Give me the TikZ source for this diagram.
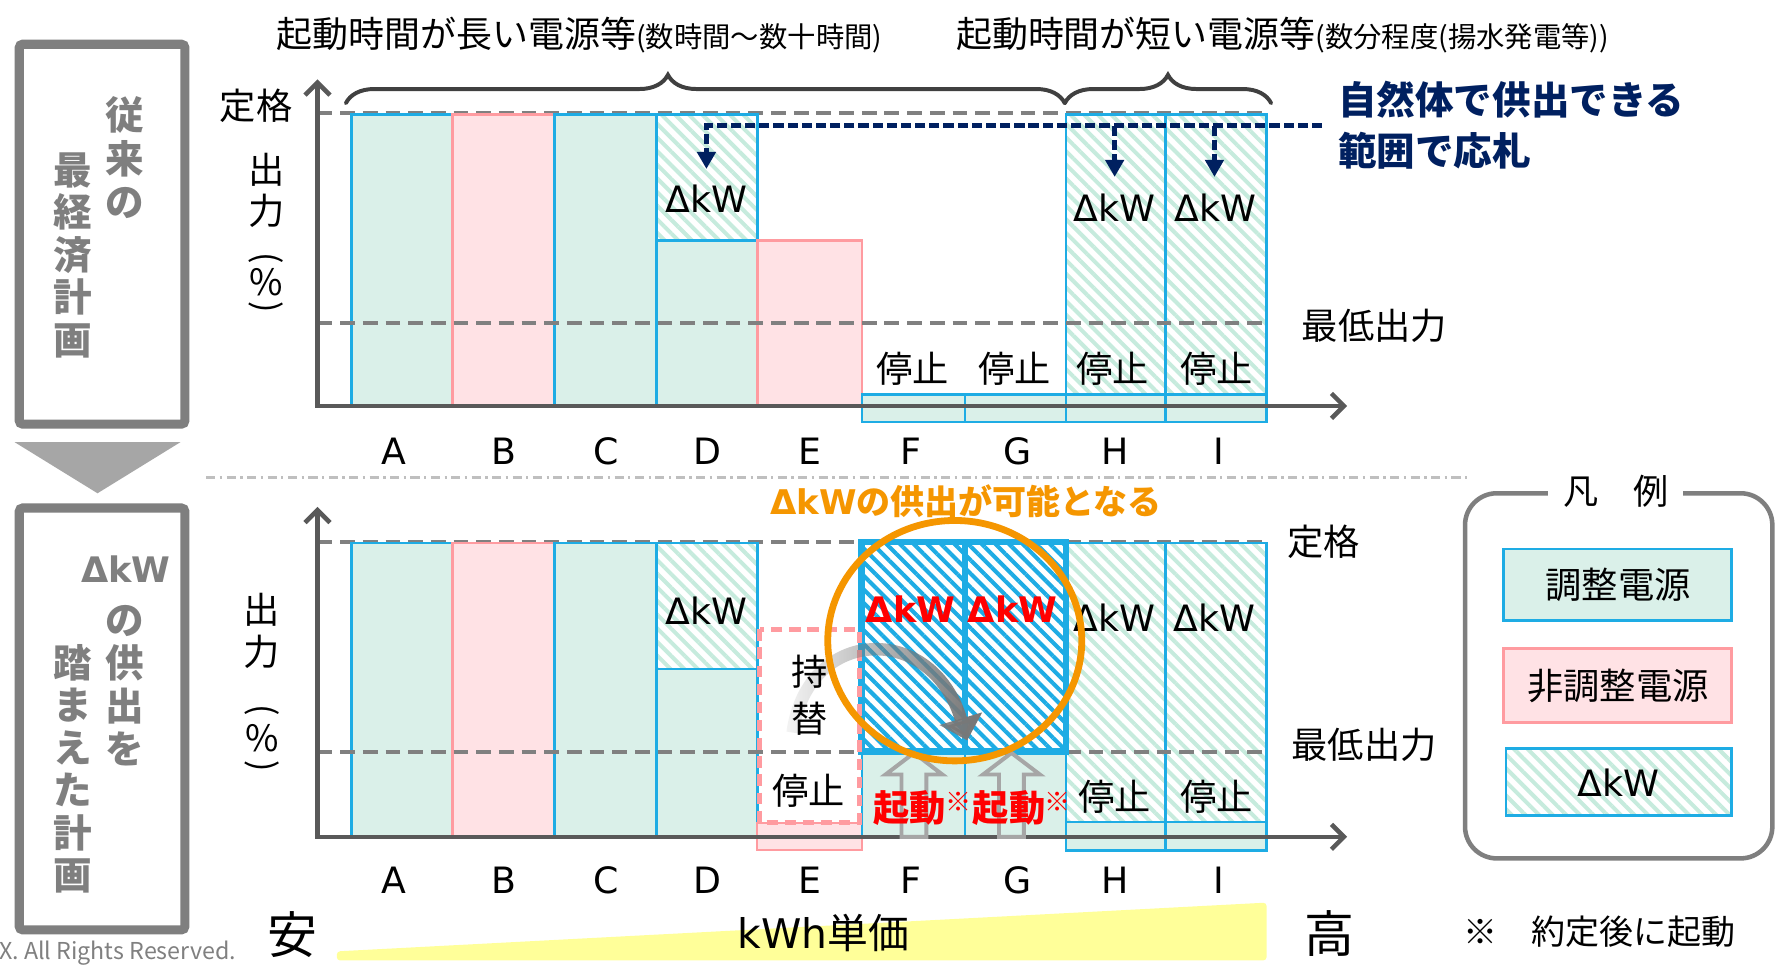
\documentclass[tikz,border=0pt]{standalone}
\usepackage{fontspec}
\setmainfont{Noto Sans CJK JP}
\newfontfamily\lat{DejaVu Sans}
\usetikzlibrary{patterns.meta,arrows.meta,decorations.pathreplacing,fadings}
\definecolor{blueL}{RGB}{30,172,228}
\definecolor{greenF}{RGB}{218,240,233}
\definecolor{pinkF}{RGB}{255,226,229}
\definecolor{pinkL}{RGB}{255,155,160}
\definecolor{hatchG}{RGB}{198,235,221}
\definecolor{dashG}{RGB}{128,128,128}
\definecolor{axisG}{RGB}{89,89,89}
\definecolor{navyC}{RGB}{0,32,96}
\definecolor{orangeC}{RGB}{245,150,0}
\definecolor{redC}{RGB}{255,0,0}
\definecolor{boxG}{RGB}{127,127,127}
\definecolor{triG}{RGB}{166,166,166}
\definecolor{yelC}{RGB}{255,255,153}
\definecolor{braceG}{RGB}{64,64,64}
\definecolor{sepG}{RGB}{191,191,191}
\definecolor{arrG}{RGB}{120,120,120}
\tikzfading[name=arrfade, left color=transparent!92, right color=transparent!0]
\newcommand\fsz[1]{\fontsize{#1pt}{#1pt}\selectfont}
\newcommand\fsl[2]{\fontsize{#1pt}{#2pt}\selectfont}
\tikzset{
  gbar/.style={fill=greenF, draw=blueL, line width=2.2pt},
  pbar/.style={fill=pinkF, draw=pinkL, line width=2.2pt},
  hbar/.style={draw=blueL, line width=2.2pt, pattern={Lines[angle=-45,distance=8.5pt,line width=3.5pt]}, pattern color=hatchG},
  bhatch/.style={pattern={Lines[angle=-45,distance=8.5pt,line width=3.6pt]}, pattern color=blueL},
  lvl/.style={draw=dashG, line width=3.5pt, dash pattern=on 13pt off 7pt},
  axisln/.style={draw=axisG, line width=4pt, line join=miter, {Straight Barb[length=11pt,width=22pt]}-{Straight Barb[length=11pt,width=22pt]}},
  lbl/.style={font=\fsz{32}, inner sep=0pt},
  dk/.style={font=\lat\fsz{32}, inner sep=0pt},
  navyarr/.style={draw=navyC, line width=4.2pt, dash pattern=on 9pt off 3.5pt, -{Triangle[length=15pt,width=16pt]}},
  gtxt/.style={text=boxG, font=\bfseries\fsl{34}{38}, align=center, inner sep=0pt},
  upar/.style={draw=triG, line width=3.5pt, line join=miter},
  brc/.style={draw=braceG, line width=3.5pt, line cap=round, decorate},
}
\begin{document}
\begin{tikzpicture}[x=1pt,y=-1pt]
\useasboundingbox (0,0) rectangle (1568,852);
\fill[white] (0,0) rectangle (1568,852);

% ---------- left boxes ----------
\draw[boxG, line width=8pt, rounded corners=3pt] (17,39) rectangle (163,374);
\fill[triG] (13,390) -- (159,390) -- (86,435) -- cycle;
\draw[boxG, line width=8pt, rounded corners=3pt] (17,448) rectangle (163,820);
\node[gtxt] (g1a) at (110,139) {従\\来\\の};
\node[gtxt, font=\bfseries\fsl{34}{37.5}] (g1b) at (64,225) {最\\経\\済\\計\\画};
\node[gtxt, font=\lat\bfseries\fsz{31}] (g2a) at (111,502) {ΔkW};
\node[gtxt] (g2b) at (110,605) {の\\供\\出\\を};
\node[gtxt, font=\bfseries\fsl{34}{37.4}] (g2c) at (64,678) {踏\\ま\\え\\た\\計\\画};
\node[anchor=west, text=dashG, font=\fsz{20.5}, inner sep=0pt] (copyr) at (-1,841) {X. All Rights Reserved.};

% ---------- titles ----------
\node[anchor=west, inner sep=0pt] (title1) at (244,31) {\fsz{31.7}起動時間が長い電源等\fsz{25}(数時間～数十時間)};
\node[anchor=west, inner sep=0pt] (title2) at (843,31) {\fsz{31.7}起動時間が短い電源等\fsz{25}(数分程度(揚水発電等))};
\draw[brc, decoration={brace, amplitude=25pt, aspect=0.448}] (305,91) -- (939,91);
\draw[brc, decoration={brace, amplitude=25pt, aspect=0.5}] (939,91) -- (1121,91);

% ---------- top chart ----------
\draw[lvl] (280,100) -- (1120,100);
\draw[gbar] (310,101) rectangle (399,358);
\draw[pbar] (399,101) rectangle (489,358);
\draw[gbar] (489,101) rectangle (579,358);
\draw[gbar] (579,212) rectangle (668,358);
\draw[hbar] (579,101) rectangle (668,212);
\draw[pbar] (668,212) rectangle (760,358);
\draw[gbar] (760,348) rectangle (851,372);
\draw[gbar] (851,348) rectangle (940,372);
\draw[hbar] (940,101) rectangle (1028,348);
\draw[gbar] (940,348) rectangle (1028,372);
\draw[hbar] (1028,101) rectangle (1117,348);
\draw[gbar] (1028,348) rectangle (1117,372);
\draw[lvl] (280,285) -- (1120,285);
\coordinate (yt1) at (280,70);
\coordinate (o1) at (280,358);
\coordinate (xt1) at (1188,358);
\draw[axisln] (yt1) -- (o1) -- (xt1);

\node[lbl] (r1) at (226,93) {定格};
\node[lbl] (m1) at (1212,287) {最低出力};
\node[lbl] (ya1) at (235,150) {出};
\node[lbl] (yb1) at (235,186) {力};
\node[lbl, rotate=-90, font=\fsz{30}] (yc1) at (235,228) {(};
\node[lbl] (yd1) at (235,249) {\%};
\node[lbl, rotate=-90, font=\fsz{30}] (ye1) at (235,271) {)};

\node[dk] (dkD1) at (623,175) {ΔkW};
\node[dk] (dkH1) at (983,183) {ΔkW};
\node[dk] (dkI1) at (1072,183) {ΔkW};
\node[lbl] (sF1) at (805,325) {停止};
\node[lbl] (sG1) at (895,325) {停止};
\node[lbl] (sH1) at (981,325) {停止};
\node[lbl] (sI1) at (1073,325) {停止};
\foreach \l/\x in {A/347,B/444,C/535,D/624,E/714,F/803,G/897,H/983,I/1075}
  \node[dk] (u\l) at (\x,398) {\l};

% navy annotation
\coordinate (n0) at (1166,111);
\coordinate (nc) at (623,111);
\coordinate (nD) at (623,149);
\coordinate (nH0) at (983,111);
\coordinate (nH) at (983,156);
\coordinate (nI0) at (1071,111);
\coordinate (nI) at (1071,156);
\draw[navyarr] (n0) -- (nc) -- (nD);
\draw[navyarr] (nH0) -- (nH);
\draw[navyarr] (nI0) -- (nI);
\node[anchor=west, inner sep=0pt, text=navyC, font=\bfseries\fsz{34}] (nv1) at (1180,88) {自然体で供出できる};
\node[anchor=west, inner sep=0pt, text=navyC, font=\bfseries\fsz{34}] (nv2) at (1180,133) {範囲で応札};

% separator
\draw[sepG, line width=2pt, dash pattern=on 8pt off 4pt on 2pt off 4pt] (182,421) -- (1295,421);

% ---------- bottom chart ----------
\draw[lvl] (280,478) -- (1117,478);
\draw[gbar] (310,479) rectangle (399,738);
\draw[pbar] (399,479) rectangle (489,738);
\draw[gbar] (489,479) rectangle (579,738);
\draw[gbar] (579,590) rectangle (668,738);
\draw[hbar] (579,479) rectangle (668,590);
\draw[pbar, line width=1.8pt] (668,726) rectangle (760,750);
\draw[gbar] (760,663) rectangle (851,738);
\draw[gbar] (851,663) rectangle (940,738);
\draw[hbar] (940,479) rectangle (1028,725);
\draw[gbar] (940,725) rectangle (1028,750);
\draw[hbar] (1028,479) rectangle (1117,725);
\draw[gbar] (1028,725) rectangle (1117,750);
\draw[lvl] (280,663) -- (1117,663);
\path[bhatch] (760,478) rectangle (940,663);
\draw[blueL, line width=6pt] (760,478) rectangle (940,663);
\draw[blueL, line width=5.5pt] (851,478) -- (851,663);
\draw[pinkL, line width=4.5pt, dash pattern=on 10pt off 6pt] (670,555) rectangle (758,725);

\coordinate (yt2) at (280,447);
\coordinate (o2) at (280,738);
\coordinate (xt2) at (1188,738);
\draw[axisln] (yt2) -- (o2) -- (xt2);

% hollow up arrows
\foreach \c in {806,892}
  \draw[upar] (\c,664) -- (\c+25,683) -- (\c+11,683) -- (\c+11,738) -- (\c-11,738) -- (\c-11,683) -- (\c-25,683) -- cycle;

% curved gray arrow
\coordinate (ga1) at (699,646);
\coordinate (ga2) at (853,653);
\draw[arrG, line width=11pt, path fading=arrfade, -{Triangle[length=20pt,width=38pt]}] (ga1) .. controls (712,552) and (822,548) .. (ga2);

\node[lbl] (r2) at (1167,478) {定格};
\node[lbl] (m2) at (1203,657) {最低出力};
\node[lbl] (ya2) at (231,538) {出};
\node[lbl] (yb2) at (231,575) {力};
\node[lbl, rotate=-90, font=\fsz{30}] (yc2) at (231,626) {(};
\node[lbl] (yd2) at (231,651) {\%};
\node[lbl, rotate=-90, font=\fsz{30}] (ye2) at (231,676) {)};

\node[dk] (dkD2) at (623,539) {ΔkW};
\node[dk] (dkH2) at (983,545) {ΔkW};
\node[dk] (dkI2) at (1071,545) {ΔkW};
\node[lbl, align=center, font=\fsl{32}{41}] (mochi) at (714,613) {持\\替};
\node[lbl] (sE2) at (713,697) {停止};
\node[lbl] (sH2) at (983,703) {停止};
\node[lbl] (sI2) at (1073,703) {停止};
\node[inner sep=0pt, text=redC, font=\lat\bfseries\fsz{31}] (rdF) at (803,537) {ΔkW};
\node[inner sep=0pt, text=redC, font=\lat\bfseries\fsz{31}] (rdG) at (893,537) {ΔkW};
\node[inner sep=0pt, text=redC, font=\bfseries\fsz{32}] (kdF) at (802,713) {起動};
\node[inner sep=0pt, text=redC, font=\fsz{23}] (kmF) at (845,707) {※};
\node[inner sep=0pt, text=redC, font=\bfseries\fsz{32}] (kdG) at (890,713) {起動};
\node[inner sep=0pt, text=redC, font=\fsz{23}] (kmG) at (933,707) {※};
\foreach \l/\x in {A/347,B/444,C/535,D/624,E/714,F/803,G/897,H/983,I/1075}
  \node[dk] (v\l) at (\x,776) {\l};

\draw[orangeC, line width=6pt] (842,565) ellipse [x radius=112pt, y radius=106pt];
\node[inner sep=0pt, text=orangeC, font=\bfseries\fsz{30}] (orng) at (852,442) {{\lat ΔkW}の供出が可能となる};

% ---------- legend ----------
\draw[boxG, line width=4pt, rounded corners=28pt] (1292,435) rectangle (1563,757);
\node[fill=white, inner xsep=13pt, inner ysep=2pt, font=\fsz{31}] (hanrei) at (1425,433) {凡　例};
\draw[gbar] (1326,484) rectangle (1527,547);
\node[lbl] (lg1) at (1427,516) {調整電源};
\draw[pbar] (1326,572) rectangle (1527,637);
\node[lbl] (lg2) at (1427,605) {非調整電源};
\draw[hbar] (1328,660) rectangle (1527,719);
\node[dk] (lg3) at (1427,690) {ΔkW};

% ---------- price axis ----------
\fill[yelC, rounded corners=3pt] (297,847) -- (297,839) -- (1117,796) -- (1117,847) -- cycle;
\node[inner sep=0pt, font=\fsz{44}] (yasu) at (258,824) {安};
\node[inner sep=0pt, font=\fsz{36}] (kwh) at (726,823) {{\lat kWh}単価};
\node[inner sep=0pt, font=\fsz{44}] (taka) at (1172,823) {高};
\node[anchor=west, inner sep=0pt, font=\fsz{30}] (note) at (1290,822) {※　約定後に起動};
\end{tikzpicture}
\end{document}
